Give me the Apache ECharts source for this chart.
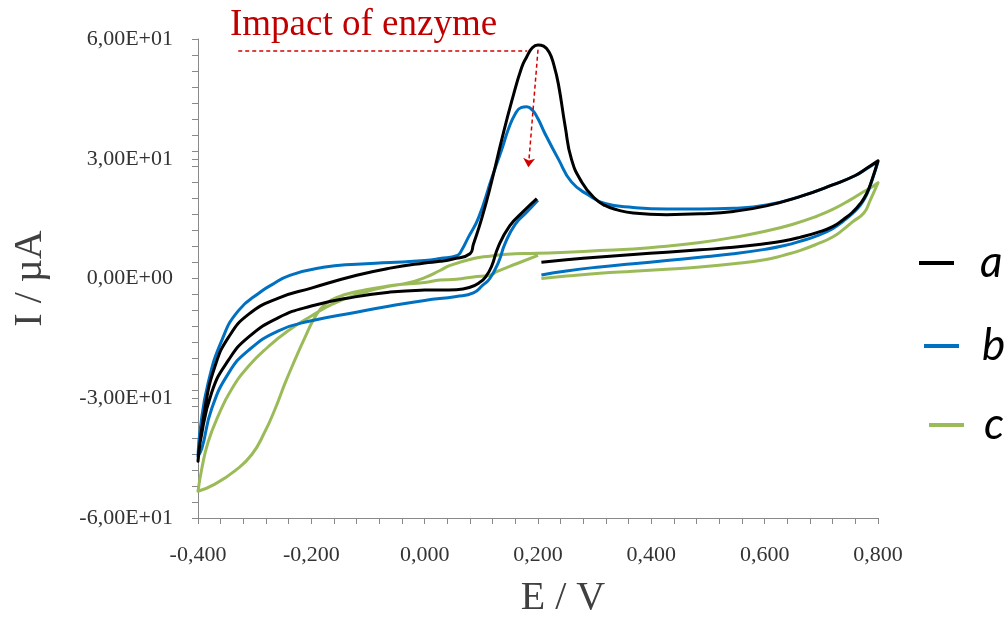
<!DOCTYPE html>
<html>
<head>
<meta charset="utf-8">
<script src="https://cdn.jsdelivr.net/npm/echarts@6/dist/echarts.min.js"></script>
<style>
  html, body { margin: 0; padding: 0; background: #fff; }
  #chart { width: 1006px; height: 623px; }
</style>
</head>
<body>
<div id="chart"></div>
<script>
// tick labels (excel style, comma decimal)
var xTicks = [-0.4, -0.2, 0, 0.2, 0.4, 0.6, 0.8];
var xLabels = ['-0,400', '-0,200', '0,000', '0,200', '0,400', '0,600', '0,800'];
var yTicks = [-60, -30, 0, 30, 60];
var yLabels = ['-6,00E+01', '-3,00E+01', '0,00E+00', '3,00E+01', '6,00E+01'];

// CV curves, [E (V), I (uA)] in scan order
var curveA = [
  [0.206, 4.1], [0.25, 4.7], [0.309, 5.4], [0.368, 6.0], [0.427, 6.6], [0.486, 7.2], [0.545, 7.8],
  [0.6, 8.7], [0.633, 9.4], [0.662, 10.3], [0.692, 11.5], [0.72, 13.0], [0.739, 14.8], [0.755, 16.6],
  [0.769, 18.8], [0.78, 21.3], [0.79, 25], [0.8, 29.5],
  [0.78, 27.6], [0.76, 25.8], [0.721, 23.5], [0.662, 20.5], [0.603, 18.2], [0.545, 16.8], [0.486, 16.2],
  [0.427, 16.0], [0.368, 16.4], [0.34, 17.2], [0.318, 18.3], [0.3, 20.1], [0.277, 24.2], [0.259, 29.9],
  [0.248, 38.1], [0.236, 48.7], [0.228, 53.5], [0.22, 56.6], [0.21, 58.2], [0.2, 58.5], [0.19, 57.8],
  [0.18, 55.5], [0.171, 52.8], [0.154, 44.6], [0.136, 34.8], [0.118, 24.2], [0.101, 15.2], [0.086, 8.6],
  [0.08, 6.2], [0.05, 4.9], [0.027, 4.3], [0.0, 3.9], [-0.061, 2.6], [-0.12, 0.8], [-0.2, -2.4],
  [-0.258, -4.9], [-0.311, -9.0], [-0.346, -14.7], [-0.37, -22], [-0.388, -32.7], [-0.4, -45.8],
  [-0.396, -40.9], [-0.376, -28.6], [-0.346, -20.4], [-0.311, -14.7], [-0.258, -9.8], [-0.2, -6.9],
  [-0.123, -4.6], [-0.061, -3.4], [0.0, -2.9], [0.056, -2.8], [0.08, -2.2], [0.098, -0.9], [0.108, 0.5],
  [0.118, 3], [0.13, 8], [0.15, 13.2], [0.172, 16.5], [0.198, 20]
];
var curveB = [
  [0.206, 0.9], [0.25, 1.9], [0.309, 2.9], [0.368, 3.7], [0.427, 4.5], [0.486, 5.3], [0.545, 6.2],
  [0.6, 7.3], [0.633, 8.2], [0.662, 9.3], [0.692, 10.7], [0.72, 12.5], [0.739, 14.4], [0.755, 16.3],
  [0.769, 18.4], [0.78, 21], [0.79, 24.8], [0.8, 29.3],
  [0.78, 27.5], [0.76, 25.8], [0.721, 23.5], [0.662, 20.5], [0.603, 18.4], [0.545, 17.6], [0.486, 17.4],
  [0.427, 17.4], [0.368, 17.8], [0.318, 18.8], [0.289, 20.9], [0.259, 24.2], [0.236, 29.9], [0.212, 36.4],
  [0.2, 40], [0.19, 42.2], [0.18, 43], [0.17, 42.8], [0.16, 41.3], [0.148, 37.5], [0.136, 32.3],
  [0.118, 25], [0.095, 15.2], [0.077, 10.3], [0.065, 7.0], [0.058, 5.8],
  [0.027, 5.0], [0.0, 4.5], [-0.061, 4.0], [-0.12, 3.6], [-0.179, 2.8], [-0.238, 0.8], [-0.27, -1.6],
  [-0.288, -3.2], [-0.329, -8.1], [-0.358, -15.5], [-0.382, -26.1], [-0.396, -37.6], [-0.4, -44.5],
  [-0.393, -42.5], [-0.376, -32.7], [-0.346, -23.7], [-0.311, -18], [-0.258, -13.1], [-0.2, -10.6],
  [-0.123, -8.5], [-0.061, -6.9], [0.0, -5.5], [0.056, -4.5], [0.086, -3.6], [0.103, -1.6], [0.115, 0],
  [0.13, 4], [0.142, 8.8], [0.16, 13.6], [0.18, 16.6], [0.2, 19.6]
];
var curveC = [
  [0.206, 0.0], [0.25, 0.6], [0.309, 1.3], [0.368, 1.8], [0.427, 2.3], [0.486, 2.9], [0.545, 3.7],
  [0.6, 4.7], [0.633, 5.8], [0.662, 7.0], [0.692, 8.6], [0.72, 10.4], [0.739, 12.3], [0.755, 14.2],
  [0.775, 16.4], [0.786, 19.5], [0.8, 24.0],
  [0.79, 23], [0.775, 21.8], [0.751, 19.7], [0.72, 17.3], [0.692, 15.6], [0.65, 13.6], [0.603, 11.9],
  [0.545, 10.3], [0.486, 9.0], [0.427, 8.1], [0.368, 7.4], [0.309, 7.0], [0.251, 6.6], [0.198, 6.3],
  [0.145, 6.1], [0.115, 5.6], [0.086, 5.0], [0.045, 3.3], [0.027, 2.0], [0.0, 0.2], [-0.032, -1.2],
  [-0.061, -1.8], [-0.091, -2.5], [-0.123, -3.4], [-0.152, -4.6], [-0.176, -6.5], [-0.194, -9.8],
  [-0.211, -14.7], [-0.229, -20.4], [-0.246, -26.1], [-0.264, -32.7], [-0.282, -38.4], [-0.305, -44.1],
  [-0.335, -48.2], [-0.37, -51.5], [-0.4, -53.3],
  [-0.393, -47.4], [-0.382, -40.9], [-0.364, -34.3], [-0.341, -27.8], [-0.311, -22], [-0.276, -17.1],
  [-0.241, -13.1], [-0.2, -9.4], [-0.164, -6.5], [-0.123, -4.2], [-0.061, -1.9], [0.0, -1.0],
  [0.027, -0.4], [0.056, -0.2], [0.086, 0.4], [0.115, 0.8], [0.127, 1.7], [0.162, 3.7], [0.2, 5.8]
];

var names = ['a', 'b', 'c'];
var colors = ['#000000', '#0070c0', '#9bbb59'];

function pick(ticks, labels, v) {
  for (var i = 0; i < ticks.length; i++) {
    if (Math.abs(ticks[i] - v) < 1e-6) return labels[i];
  }
  return '';
}

var chart = echarts.init(document.getElementById('chart'));

var serif = '"Liberation Serif", "Times New Roman", serif';
var axisGray = '#898989';

function legendFor(i, left, top, gap) {
  return {
    data: [names[i]],
    left: left,
    top: top,
    padding: 0,
    icon: 'rect',
    itemWidth: 35,
    itemHeight: 4,
    selectedMode: false,
    textStyle: {
      fontFamily: 'Lato, "Noto Sans", sans-serif',
      fontStyle: 'italic',
      fontSize: 44,
      lineHeight: 44,
      color: '#000',
      padding: [0, 0, 0, gap]
    }
  };
}

var option = {
  animation: false,
  backgroundColor: '#fff',
  grid: { left: 198, right: 128, top: 39, bottom: 95 },
  legend: [
    legendFor(0, 919, 241, 21),
    legendFor(1, 924, 324, 18),
    legendFor(2, 929, 403, 15)
  ],
  graphic: [{
    type: 'text',
    left: 230,
    top: 7,
    style: {
      text: 'Impact of enzyme',
      font: '37px "Liberation Serif"',
      fill: '#c00000'
    }
  }],
  xAxis: {
    type: 'value',
    min: -0.4,
    max: 0.8,
    interval: 0.2,
    name: 'E / V',
    nameLocation: 'middle',
    nameGap: 60,
    nameTextStyle: { fontFamily: serif, fontSize: 40, color: '#404040', padding: [0, 0, 0, 50] },
    axisLine: { onZero: false, lineStyle: { color: axisGray, width: 1 } },
    axisTick: { show: true, length: 6, lineStyle: { color: axisGray } },
    minorTick: { show: true, splitNumber: 5, length: 6, lineStyle: { color: axisGray } },
    splitLine: { show: false },
    axisLabel: {
      margin: 26,
      fontFamily: serif,
      fontSize: 22,
      color: '#333',
      formatter: function (v) { return pick(xTicks, xLabels, v); }
    }
  },
  yAxis: [{
    type: 'value',
    position: 'left',
    min: -60,
    max: 60,
    interval: 30,
    name: 'I / µA',
    nameLocation: 'middle',
    nameGap: 148,
    nameRotate: 90,
    nameTextStyle: { fontFamily: serif, fontSize: 40, color: '#404040' },
    axisLine: { show: true, onZero: false, lineStyle: { color: axisGray, width: 1 } },
    axisTick: { show: true, length: 6, lineStyle: { color: axisGray } },
    splitLine: { show: false },
    axisLabel: {
      margin: 25,
      fontFamily: serif,
      fontSize: 22,
      color: '#333',
      formatter: function (v) { return pick(yTicks, yLabels, v); }
    }
  }, {
    // minor ticks every 4 units, as in the source plot
    type: 'value',
    position: 'left',
    offset: 0,
    min: -60,
    max: 60,
    interval: 4,
    axisLine: { show: false, onZero: false },
    axisTick: { show: true, length: 6, lineStyle: { color: axisGray } },
    axisLabel: { show: false },
    splitLine: { show: false }
  }],
  series: [2, 1, 0].map(function (i) {
    var s = {
      name: names[i],
      type: 'line',
      data: [curveA, curveB, curveC][i],
      yAxisIndex: 0,
      symbol: 'none',
      smooth: 0.5,
      color: colors[i],
      lineStyle: { color: colors[i], width: 3, join: 'round' }
    };
    if (i === 0) {
      s.markLine = {
        silent: true,
        animation: false,
        label: { show: false },
        lineStyle: { color: '#d40000', type: [4, 3], width: 1.5 },
        data: [
          [{ coord: [-0.329, 57.05], symbol: 'none' }, { coord: [0.181, 57.05], symbol: 'none' }],
          [{ coord: [0.2, 57.3], symbol: 'none' }, { coord: [0.183, 27.9], symbol: 'arrow', symbolSize: 9 }]
        ]
      };
    }
    return s;
  })
};

chart.setOption(option);
</script>
</body>
</html>
